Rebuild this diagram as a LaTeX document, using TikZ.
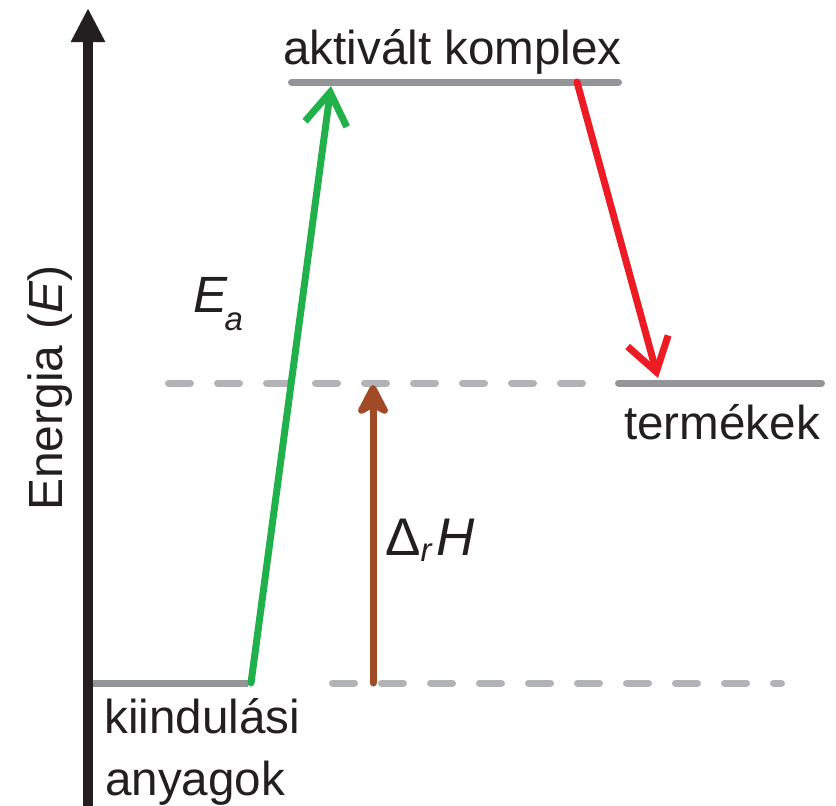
\documentclass[tikz,border=0pt]{standalone}
\usepackage{fontspec}
\setmainfont{Liberation Sans}
\usetikzlibrary{arrows.meta}
\definecolor{axisblack}{RGB}{35,31,32}
\definecolor{levelgrey}{RGB}{147,149,152}
\definecolor{dashgrey}{RGB}{177,179,182}
\definecolor{eagreen}{RGB}{33,177,75}
\definecolor{dhbrown}{RGB}{160,74,38}
\definecolor{prodred}{RGB}{237,28,36}
\definecolor{textblack}{RGB}{35,31,32}
\begin{document}
\begin{tikzpicture}[x=1pt,y=-1pt,
  level/.style={draw=levelgrey, line width=7pt, line cap=round},
  refline/.style={draw=dashgrey, line width=7pt, line cap=round, dash pattern=on 22pt off 27pt},
  barb/.style={line width=7pt, line cap=round, line join=round, -{Straight Barb[length=32pt,width=42pt]}},
  lbl/.style={inner sep=0pt, text=textblack, font=\fontsize{47.6}{62}\selectfont},
  biglbl/.style={inner sep=0pt, text=textblack, font=\fontsize{53}{60}\selectfont},
]
\useasboundingbox (0,0) rectangle (836,806);
% coordinates
\coordinate (a0) at (88,806);
\coordinate (a1) at (88,8);
\coordinate (g0) at (251,683);
\coordinate (g1) at (331,86);
\coordinate (r0) at (577,82);
\coordinate (r1) at (658,378);
\coordinate (b0) at (373,683);
\coordinate (b1) at (373,385);
\coordinate (top0) at (291.5,82);
\coordinate (top1) at (618.5,82);
\coordinate (pr0) at (618.5,383);
\coordinate (pr1) at (821.5,383);
\coordinate (st0) at (88,683);
\coordinate (st1) at (247.5,683);
\coordinate (du0) at (168.5,383);
\coordinate (du1) at (582.5,383);
\coordinate (dl0) at (332.5,683);
\coordinate (dl1) at (781.5,683);
% reference dashed lines
\draw[refline] (du0) -- (du1);
\draw[refline] (dl0) -- (dl1);
% level lines
\draw[level] (top0) -- (top1);
\draw[level] (pr0) -- (pr1);
\draw[level, line cap=butt] (st0) -- (st1);
% energy axis
\draw[draw=axisblack, line width=10pt, -{Triangle[length=34pt,width=32pt]}, fill=axisblack] (a0) -- (a1);
% arrows
\draw[barb, draw=eagreen] (g0) -- (g1);
\draw[barb, draw=prodred] (r0) -- (r1);
\draw[draw=dhbrown, line width=7pt, line cap=round, -{Stealth[length=37pt,width=38pt,inset=10pt,round]}, fill=dhbrown] (b0) -- (b1);
% labels
\node[lbl, anchor=base west] (ak) at (283,64) {aktivált komplex};
\node[lbl, anchor=base west] (te) at (624,439) {termékek};
\node[lbl, anchor=base west] (ki) at (104,733) {kiindulási};
\node[lbl, anchor=base west] (an) at (105,795) {anyagok};
\node[lbl, rotate=90, anchor=base, font=\fontsize{48}{52}\selectfont] (en) at (62,388) {Energia\,\,(\textit{E})};
\node[biglbl, anchor=base west, font=\fontsize{51}{60}\selectfont] (ea) at (193,312)
  {\textit{E}\kern-3pt\raisebox{-18pt}{\fontsize{33}{40}\selectfont\textit{a}}};
\node[biglbl, anchor=base west] (dh) at (385,555)
  {Δ\raisebox{-6pt}{\fontsize{33}{40}\selectfont\textit{r}}\kern4pt\textit{H}};
\end{tikzpicture}
\end{document}
